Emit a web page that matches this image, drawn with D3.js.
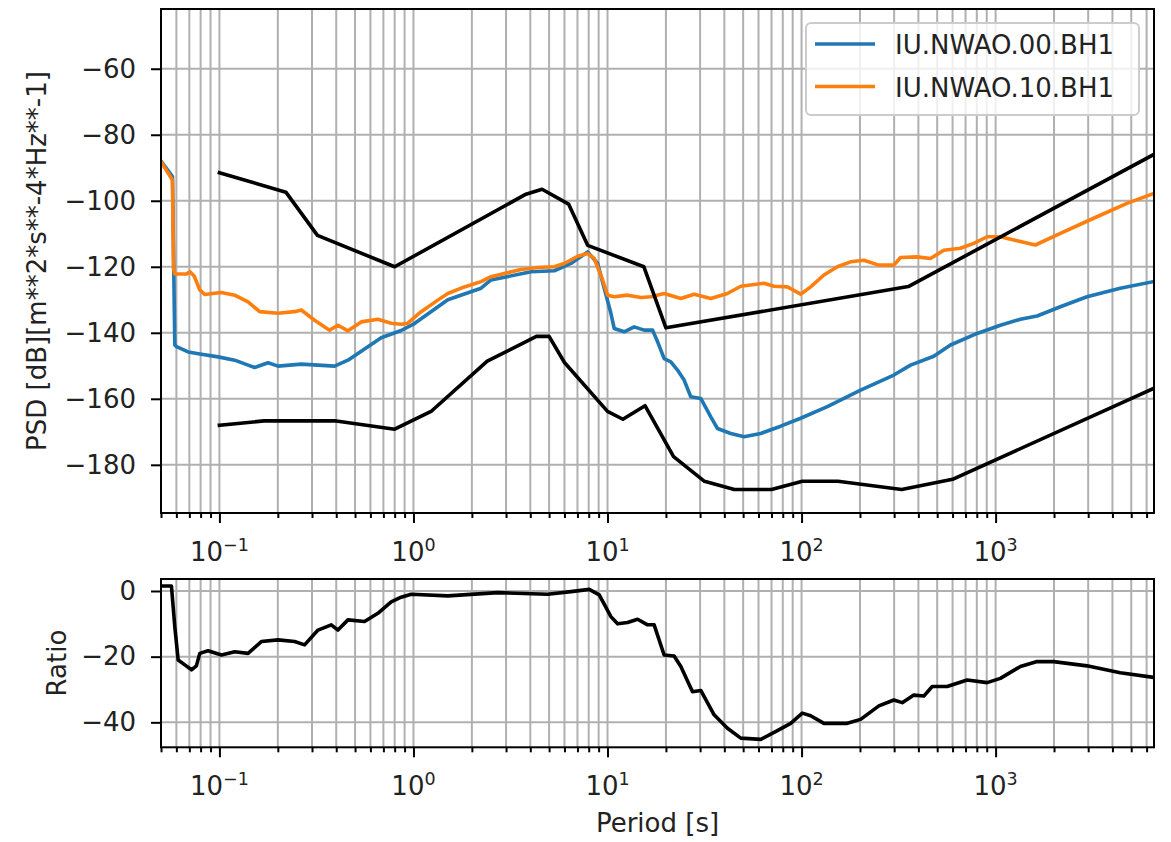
<!DOCTYPE html>
<html>
<head>
<meta charset="utf-8">
<script src="https://cdn.jsdelivr.net/npm/d3@7"></script>
<style>
  body { margin: 0; background: #fff; }
  svg { display: block; font-family: "DejaVu Sans", sans-serif; }
</style>
</head>
<body>
<svg id="chart" width="1171" height="842"></svg>
<script>
// Peterson noise models (period [s], PSD [dB])
const nhnmPeriod = [0.1, 0.22, 0.32, 0.8, 3.8, 4.6, 6.3, 7.9, 15.4, 20, 354.8, 100000];
const nhnmDb = [-91.5, -97.4, -110.5, -120.0, -98.0, -96.5, -101.0, -113.5, -120.0, -138.5, -126.0, -48.5];
const nlnmPeriod = [0.1, 0.17, 0.4, 0.8, 1.24, 2.4, 4.3, 5, 6, 10, 12, 15.6, 21.9, 31.6, 45, 70, 101, 154, 328, 600, 10000];
const nlnmDb = [-168.0, -166.7, -166.7, -169.2, -163.7, -148.6, -141.1, -141.1, -149.0, -163.8, -166.2, -162.1,
  -177.5, -185.0, -187.5, -187.5, -185.0, -185.0, -187.5, -184.4, -151.9];

// IU.NWAO.00.BH1
const blueLabel = "IU.NWAO.00.BH1";
const bluePeriod = [0.05, 0.0573, 0.0589, 0.0601, 0.069, 0.0808, 0.0985, 0.1199, 0.1405, 0.1519, 0.1781, 0.2005,
  0.2642, 0.3921, 0.4596, 0.5824, 0.6819, 0.8643, 1.012, 1.503, 2.23, 2.511, 4.035, 5.318, 6.48, 7.9, 8.894,
  9.617, 10.41, 10.83, 12.19, 13.72, 15.45, 17.07, 18.11, 19.58, 21.2, 22.95, 24.81, 26.87, 30.25, 34.06, 36.87,
  43.17, 50.53, 61.59, 78.07, 98.95, 135.8, 201.5, 298.9, 364.3, 480.1, 585.3, 803.3, 1058, 1342, 1636, 2156,
  2957, 4388, 6512];
const blueDb = [-88.0, -92.7, -143.7, -144.2, -145.8, -146.5, -147.3, -148.3, -149.8, -150.5, -149.1, -150.1,
  -149.5, -150.1, -148.3, -144.2, -141.5, -139.3, -137.2, -130.0, -126.5, -124.0, -121.5, -121.2, -119.0, -115.5, -119.0,
  -126.5, -134.1, -138.7, -139.7, -138.2, -139.2, -139.2, -142.7, -147.8, -148.8, -151.3, -154.3, -159.4, -159.9, -165.5, -169.0,
  -170.5, -171.5, -170.5, -168.3, -165.9, -162.4, -157.4, -152.8, -149.8, -147.1, -143.7, -140.2, -137.7, -135.9, -134.9, -132.1,
  -129.1, -126.5, -124.5];

// IU.NWAO.10.BH1
const orangeLabel = "IU.NWAO.10.BH1";
const orangePeriod = [0.05, 0.0573, 0.058, 0.0589, 0.0677, 0.0704, 0.0741, 0.0792, 0.084, 0.0946, 0.1024, 0.1199,
  0.1405, 0.1612, 0.2005, 0.2441, 0.2642, 0.3093, 0.3695, 0.4082, 0.4596, 0.538, 0.6557, 0.7678, 0.8643, 0.9358,
  1.095, 1.335, 1.503, 1.83, 2.23, 2.511, 3.584, 4.368, 5.318, 5.985, 7.018, 7.9, 8.543, 9.436, 10.01, 10.83,
  12.69, 14.86, 16.73, 19.58, 23.87, 27.94, 34.06, 41.51, 48.61, 64.05, 72.11, 84.54, 98.95, 111.4, 130.4, 152.9,
  178.9, 209.5, 250.3, 298.9, 323.6, 394.5, 461.7, 540.6, 658.8, 771.6, 904.4, 1058, 1290, 1603, 2156, 3198, 4752, 6512];
const orangeDb = [-88.2, -93.7, -120.4, -122.2, -122.2, -121.5, -122.8, -127.0, -128.4, -128.0, -127.8, -128.6,
  -130.6, -133.6, -134.1, -133.6, -133.1, -136.2, -139.2, -137.7, -139.4, -136.7, -135.9, -137.1, -137.4, -137.1,
  -133.6, -130.1, -128.1, -126.1, -124.5, -123.0, -120.8, -120.2, -120.0, -119.0, -116.8, -116.0, -117.5, -124.0, -128.6, -129.1,
  -128.6, -129.3, -129.1, -128.1, -129.6, -128.3, -129.6, -128.1, -125.9, -125.0, -125.9, -126.1, -128.3, -126.1, -122.5, -120.0,
  -118.5, -118.0, -119.5, -119.5, -117.2, -117.0, -117.5, -115.0, -114.4, -112.9, -110.9, -110.9, -112.1, -113.4, -109.9, -105.3, -100.8, -97.8];

// ratio panel
const ratioPeriod = [0.05, 0.0566, 0.0589, 0.0613, 0.0663, 0.0718, 0.0761, 0.0792, 0.0874, 0.1024, 0.1199, 0.1405,
  0.1645, 0.2005, 0.2441, 0.2748, 0.3221, 0.3771, 0.4082, 0.4596, 0.5596, 0.6557, 0.7678, 0.8643, 0.9731, 1.503,
  2.719, 4.917, 6.48, 8.051, 9.064, 10.41, 11.27, 12.69, 14.29, 16.09, 17.39, 19.58, 22.04, 23.87, 27.42, 30.25,
  35.42, 41.51, 48.61, 61.59, 75.08, 87.9, 100.9, 111.4, 130.4, 172.1, 201.5, 250.3, 298.9, 330.2, 378.9, 426.6,
  471.1, 562.8, 713.4, 904.4, 1058, 1342, 1636, 1991, 2957, 4388, 6512];
const ratioDb = [1.5, 1.5, -10.9, -21.0, -22.5, -24.0, -22.8, -19.0, -18.2, -19.5, -18.5, -19.0,
  -15.4, -14.9, -15.4, -16.4, -11.9, -10.3, -11.9, -8.8, -9.3, -6.8, -3.3, -1.9, -1.0, -1.5,
  -0.5, -1.0, -0.2, 0.5, -1.2, -7.8, -10.0, -9.6, -8.6, -10.3, -10.3, -19.5, -19.8, -23.0, -30.7, -30.3,
  -37.7, -41.8, -44.8, -45.2, -42.5, -40.3, -37.2, -38.0, -40.3, -40.3, -39.1, -35.0, -33.2, -34.0, -31.7, -32.0,
  -29.1, -29.1, -27.1, -27.9, -26.6, -23.0, -21.5, -21.5, -22.8, -24.9, -26.3];

const majorPeriods = [0.1, 1, 10, 100, 1000];
const majorExp = ["\u22121", "0", "1", "2", "3"];
const psdTicks = [-60, -80, -100, -120, -140, -160, -180];
const ratioTicks = [0, -20, -40];

const svg = d3.select("#chart");
const FONT = 26;
const gridColor = "#b0b0b0";

const left = 161, right = 1154;
const x = d3.scaleLog().domain([0.05, 6550]).range([left, right]);
const yTop = d3.scaleLinear().domain([-194.6, -41.9]).range([513, 9]);
const yBot = d3.scaleLinear().domain([-47.6, 3.65]).range([747.3, 579]);

// minor periods 2..9 per decade inside the x domain
const minorPeriods = [];
for (let e = -2; e <= 3; e++) {
  for (let m = 2; m <= 9; m++) {
    const v = m * Math.pow(10, e);
    if (v >= 0.05 && v <= 6550) minorPeriods.push(+v.toPrecision(3));
  }
}

const minus = d => (d < 0 ? "\u2212" : "") + Math.abs(d);

function drawPanel(y, yTicks, id) {
  const [yb, yt] = y.range();
  svg.append("clipPath").attr("id", id)
    .append("rect").attr("x", left).attr("y", yt).attr("width", right - left).attr("height", yb - yt);

  const grid = svg.append("g").attr("stroke", gridColor).attr("stroke-width", 2);
  grid.selectAll("line.v").data(minorPeriods.concat(majorPeriods)).enter().append("line")
    .attr("x1", d => x(d)).attr("x2", d => x(d)).attr("y1", yt).attr("y2", yb);
  grid.selectAll("line.h").data(yTicks).enter().append("line")
    .attr("x1", left).attr("x2", right).attr("y1", d => y(d)).attr("y2", d => y(d));

  // x axis: minor and major ticks
  const minorAxis = svg.append("g").attr("transform", "translate(0," + yb + ")")
    .call(d3.axisBottom(x).tickValues(minorPeriods).tickSize(5).tickFormat(""));
  const majorAxis = svg.append("g").attr("transform", "translate(0," + yb + ")")
    .call(d3.axisBottom(x).tickValues(majorPeriods).tickSize(10).tickFormat(""));
  [minorAxis, majorAxis].forEach(a => {
    a.select(".domain").remove();
    a.selectAll("line").attr("stroke", "#000").attr("stroke-width", 2);
  });

  const lab = svg.append("g").attr("font-size", FONT).attr("fill", "#222").attr("text-anchor", "middle");
  majorPeriods.forEach((p, i) => {
    const t = lab.append("text").attr("x", x(p)).attr("y", yb + 48);
    t.append("tspan").text("10");
    t.append("tspan").attr("font-size", 17.5).attr("dy", -10).text(majorExp[i]);
  });

  const yAxis = svg.append("g").attr("transform", "translate(" + left + ",0)")
    .call(d3.axisLeft(y).tickValues(yTicks).tickSize(10).tickPadding(15).tickFormat(minus));
  yAxis.select(".domain").remove();
  yAxis.selectAll("line").attr("stroke", "#000").attr("stroke-width", 2);
  yAxis.selectAll("text").attr("font-size", FONT).attr("font-family", "DejaVu Sans").attr("fill", "#222");
  return svg.append("g").attr("clip-path", "url(#" + id + ")");
}

function frame(y) {
  const [yb, yt] = y.range();
  svg.append("rect").attr("x", left).attr("y", yt).attr("width", right - left).attr("height", yb - yt)
    .attr("fill", "none").attr("stroke", "#000").attr("stroke-width", 2);
}

// top panel
const plotTop = drawPanel(yTop, psdTicks, "clipTop");
const lineTop = d3.line().x(d => x(d[0])).y(d => yTop(d[1]));
const seriesTop = [
  { pts: d3.zip(bluePeriod, blueDb), color: "#1f77b4" },
  { pts: d3.zip(orangePeriod, orangeDb), color: "#ff7f0e" },
  { pts: d3.zip(nhnmPeriod, nhnmDb), color: "#000" },
  { pts: d3.zip(nlnmPeriod, nlnmDb), color: "#000" }
];
plotTop.selectAll("path").data(seriesTop).enter().append("path")
  .attr("d", d => lineTop(d.pts))
  .attr("fill", "none").attr("stroke", d => d.color)
  .attr("stroke-width", 3.6).attr("stroke-linejoin", "round").attr("stroke-linecap", "square");
frame(yTop);

// bottom panel
const plotBot = drawPanel(yBot, ratioTicks, "clipBot");
const lineBot = d3.line().x(d => x(d[0])).y(d => yBot(d[1]));
plotBot.append("path")
  .attr("d", lineBot(d3.zip(ratioPeriod, ratioDb)))
  .attr("fill", "none").attr("stroke", "#000")
  .attr("stroke-width", 3.6).attr("stroke-linejoin", "round");
frame(yBot);

// axis labels
svg.append("text").attr("x", (left + right) / 2).attr("y", 832)
  .attr("text-anchor", "middle").attr("font-size", FONT).attr("fill", "#222").text("Period [s]");
svg.append("text").attr("transform", "translate(46,261) rotate(-90)")
  .attr("text-anchor", "middle").attr("font-size", FONT).attr("fill", "#222")
  .text("PSD [dB][m**2*s**-4*Hz**-1]");
svg.append("text").attr("transform", "translate(66,663) rotate(-90)")
  .attr("text-anchor", "middle").attr("font-size", FONT).attr("fill", "#222").text("Ratio");

// legend
const legend = svg.append("g");
legend.append("rect").attr("x", 806).attr("y", 23).attr("width", 333).attr("height", 92)
  .attr("rx", 5).attr("fill", "#fff").attr("fill-opacity", 0.8)
  .attr("stroke", "#cccccc").attr("stroke-width", 2);
const legendItems = [
  { label: blueLabel, color: "#1f77b4" },
  { label: orangeLabel, color: "#ff7f0e" }
];
legendItems.forEach((d, i) => {
  const yy = 44 + i * 42.5;
  legend.append("line").attr("x1", 815).attr("x2", 875).attr("y1", yy).attr("y2", yy)
    .attr("stroke", d.color).attr("stroke-width", 3.6);
  legend.append("text").attr("x", 895).attr("y", yy + 10).attr("font-size", FONT).attr("fill", "#222").text(d.label);
});
</script>
</body>
</html>
